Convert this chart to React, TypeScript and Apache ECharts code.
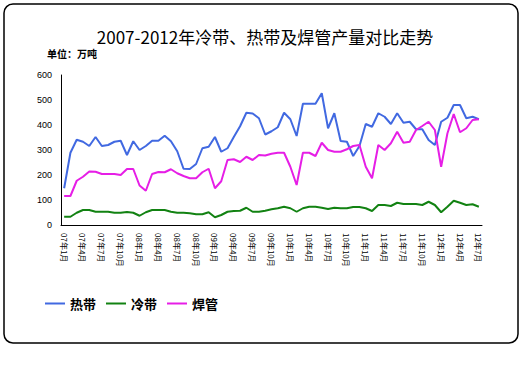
import React, { useEffect, useRef } from "react";
import * as echarts from "echarts";

const years = ["07", "08", "09", "10", "11", "12"];
const categories: string[] = [];
for (const y of years) {
  for (let m = 1; m <= 12; m++) {
    if (y === "12" && m > 7) break;
    categories.push(`${y}年${m}月`);
  }
}

const hotStrip = [147, 289, 341, 333, 316, 352, 316, 320, 333, 337, 280, 335, 300, 316, 337, 337, 357, 335, 295, 225, 224, 244, 307, 313, 352, 293, 307, 352, 395, 449, 446, 427, 362, 375, 391, 449, 423, 356, 485, 485, 485, 527, 387, 447, 336, 333, 276, 316, 404, 393, 447, 433, 404, 447, 409, 413, 383, 383, 340, 320, 413, 429, 480, 480, 427, 433, 423];
const coldStrip = [33, 33, 49, 60, 60, 53, 53, 53, 49, 49, 52, 49, 37, 51, 60, 60, 60, 53, 49, 49, 47, 43, 43, 51, 31, 40, 53, 56, 57, 69, 53, 53, 57, 63, 67, 73, 67, 53, 67, 73, 73, 69, 64, 69, 67, 67, 72, 72, 67, 56, 80, 80, 76, 89, 84, 84, 84, 80, 93, 80, 51, 73, 97, 89, 80, 83, 73];
const weldedPipe = [116, 116, 177, 193, 214, 213, 204, 204, 204, 200, 224, 224, 158, 137, 204, 212, 211, 223, 207, 196, 187, 187, 211, 225, 147, 175, 260, 263, 252, 273, 260, 280, 278, 285, 289, 289, 233, 160, 289, 289, 276, 329, 300, 293, 293, 303, 316, 320, 233, 187, 320, 300, 327, 373, 329, 333, 380, 396, 413, 380, 233, 367, 444, 371, 387, 420, 423];

const yTicks = { min: 0, max: 600, interval: 100 };

const CJK = "'Noto Sans CJK SC', sans-serif";

export default function App() {
  const ref = useRef<HTMLDivElement>(null);
  useEffect(() => {
    if (!ref.current) return;
    const chart = echarts.init(ref.current, undefined, { renderer: "svg" });
    chart.setOption({
      animation: false,
      backgroundColor: "#fff",
      title: {
        text: "2007-2012年冷带、热带及焊管产量对比走势",
        left: "center",
        top: 21,
        textStyle: { fontFamily: CJK, fontSize: 17, fontWeight: "normal", color: "#000", lineHeight: 20 },
      },
      graphic: [
        {
          type: "rect",
          shape: { x: 4, y: 4, width: 514, height: 339, r: 9 },
          style: { fill: "none", stroke: "#000", lineWidth: 1.5 },
          silent: true,
        },
        {
          type: "text",
          x: 47,
          y: 48,
          style: { text: "单位：万吨", font: `bold 10px ${CJK}`, fill: "#000" },
        },
      ],
      legend: {
        left: 40,
        top: 292,
        icon: "rect",
        itemWidth: 20,
        itemHeight: 2,
        itemGap: 10,
        textStyle: { fontFamily: CJK, fontSize: 13, fontWeight: "bold", color: "#000" },
        data: ["热带", "冷带", "焊管"],
      },
      grid: { left: 61, top: 75, width: 421, height: 150 },
      xAxis: {
        type: "category",
        data: categories,
        boundaryGap: true,
        axisLine: { lineStyle: { color: "#000", width: 1 } },
        axisTick: { interval: 2, length: 4, lineStyle: { color: "#000" } },
        axisLabel: {
          interval: 2,
          rotate: -90,
          fontSize: 8,
          margin: 8,
          color: "#000",
          fontFamily: CJK,
        },
        splitLine: { show: false },
      },
      yAxis: {
        type: "value",
        min: yTicks.min,
        max: yTicks.max,
        interval: yTicks.interval,
        axisLine: { show: true, lineStyle: { color: "#000", width: 1 } },
        axisTick: { show: false },
        axisLabel: { fontSize: 9, color: "#000", margin: 9, fontFamily: "'Liberation Sans', Arial, sans-serif" },
        splitLine: { show: false },
      },
      series: [
        {
          name: "热带",
          type: "line",
          data: hotStrip,
          symbol: "none",
          lineStyle: { width: 2, color: "#4169E1" },
          itemStyle: { color: "#4169E1" },
        },
        {
          name: "冷带",
          type: "line",
          data: coldStrip,
          symbol: "none",
          lineStyle: { width: 2, color: "#128212" },
          itemStyle: { color: "#128212" },
        },
        {
          name: "焊管",
          type: "line",
          data: weldedPipe,
          symbol: "none",
          lineStyle: { width: 2, color: "#E61EE6" },
          itemStyle: { color: "#E61EE6" },
        },
      ],
    });
    return () => chart.dispose();
  }, []);
  return (
    <div
      ref={ref}
      style={{ position: "fixed", left: 0, top: 0, width: 530, height: 384, background: "#fff" }}
    />
  );
}
